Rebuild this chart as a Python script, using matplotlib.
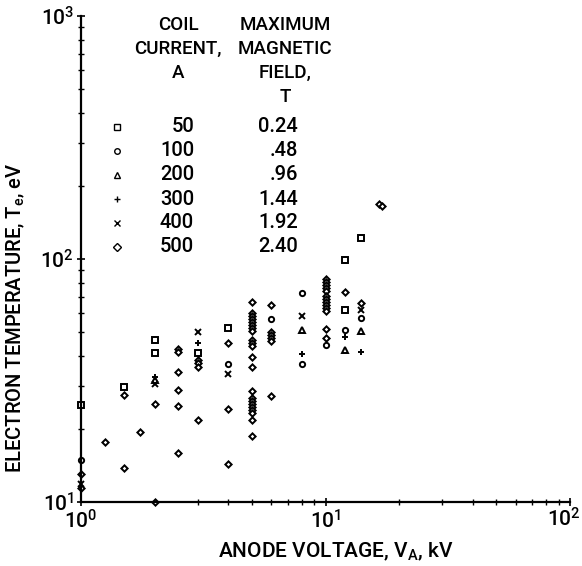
import matplotlib
matplotlib.use("Agg")
import matplotlib.pyplot as plt
import numpy as np

plt.rcParams['font.family'] = ['Roboto', 'DejaVu Sans']
plt.rcParams['font.weight'] = 'medium'
plt.rcParams['axes.labelweight'] = 'medium'
plt.rcParams['mathtext.fontset'] = 'custom'
plt.rcParams['mathtext.rm'] = 'Roboto:medium'
plt.rcParams['mathtext.it'] = 'Roboto:medium'

# coil current (A) -> max magnetic field (T), marker
currents = ['50', '100', '200', '300', '400', '500']
fields = ['0.24', '.48', '.96', '1.44', '1.92', '2.40']
markers = ['s', 'o', '^', '+', 'x', 'D']

# anode voltage (kV) and electron temperature (eV), per coil current
v_50 = [1, 1.5, 2, 2, 3, 4, 12, 12, 14]
t_50 = [25.1, 29.7, 46.4, 41.0, 41.2, 51.9, 99.5, 61.7, 122.5]

v_100 = [1, 4, 6, 8, 8, 10, 12, 14]
t_100 = [14.9, 37.0, 56.4, 72.4, 37.0, 44.1, 51.0, 57.2]

v_200 = [2, 8, 12, 14]
t_200 = [31.8, 51.0, 42.4, 50.5]

v_300 = [2, 3, 8, 12, 14]
t_300 = [32.7, 45.0, 40.5, 47.8, 41.4]

v_400 = [1, 2, 3, 4, 8, 14]
t_400 = [11.9, 30.6, 49.9, 33.6, 58.3, 61.7]

v_500 = [1, 1, 1.25, 1.5, 1.5, 1.75, 2, 2,
         2.5, 2.5, 2.5, 2.5, 2.5, 2.5,
         3, 3, 3, 3,
         4, 4, 4,
         5, 5, 5, 5, 5, 5, 5, 5, 5, 5, 5, 5, 5, 5, 5, 5, 5, 5, 5, 5, 5, 5,
         6, 6, 6, 6, 6, 6,
         10, 10, 10, 10, 10, 10, 10, 10, 10, 10, 10, 10, 10,
         12, 14, 16.5, 17.1]
t_500 = [13.0, 11.4, 17.7, 27.6, 13.8, 19.4, 25.3, 10.0,
         42.6, 41.4, 34.3, 28.9, 24.8, 15.9,
         38.4, 37.3, 36.1, 21.8,
         45.1, 24.1, 14.3,
         66.7, 60.0, 58.3, 56.6, 55.0, 53.5, 52.0, 50.5, 46.4, 45.1, 43.9,
         39.5, 35.9, 28.6, 26.8, 26.0, 25.3, 24.6, 23.9, 23.2, 21.8, 18.7,
         64.7, 50.1, 48.7, 47.3, 46.0, 27.4,
         82.7, 80.4, 78.2, 76.0, 73.8, 70.4, 68.5, 66.5, 64.7, 62.9, 61.1,
         51.7, 47.4,
         73.2, 65.9, 168, 165]

series = [(v_50, t_50), (v_100, t_100), (v_200, t_200),
          (v_300, t_300), (v_400, t_400), (v_500, t_500)]

x_ticks = [1, 10, 100]
x_ticklabels = [r'$\mathdefault{10^0}$', r'$\mathdefault{10^1}$', '']
y_ticks = [10, 100, 1000]
y_ticklabels = [r'$\mathdefault{10^1}$', r'$\mathdefault{10^2}$', r'$\mathdefault{10^3}$']

fig = plt.figure(figsize=(5.82, 5.66), dpi=100)
ax = fig.add_axes([81 / 582, 1 - 502 / 566, 489 / 582, 486 / 566])

for (v, t), m in zip(series, markers):
    ms = 3.2 if m == 'D' else 3.8
    ax.plot(v, t, linestyle='none', marker=m, markersize=ms, clip_on=False,
            markerfacecolor='white', markeredgecolor='black', markeredgewidth=1.4)

ax.set_xscale('log')
ax.set_yscale('log')
ax.set_xlim(1, 100)
ax.set_ylim(10, 1000)
ax.set_xticks(x_ticks)
ax.set_xticklabels(x_ticklabels)
ax.set_yticks(y_ticks)
ax.set_yticklabels(y_ticklabels)

# last x tick label nudged so it stays inside the picture
ax.annotate(r'$\mathdefault{10^2}$', xy=(100, 10), xycoords='data',
            xytext=(8, -4), textcoords='offset points',
            ha='right', va='top', fontsize=15, annotation_clip=False)

for s in ['top', 'right']:
    ax.spines[s].set_visible(False)
for s in ['left', 'bottom']:
    ax.spines[s].set_linewidth(1.6)

ax.tick_params(which='major', direction='inout', length=6, width=1.2, labelsize=15, pad=2)
ax.tick_params(which='minor', direction='inout', length=5, width=1.0)

ax.set_xlabel(r'ANODE VOLTAGE, $\mathdefault{V_A}$, kV', fontsize=15)
ax.set_ylabel(r'ELECTRON TEMPERATURE, $\mathdefault{T_e}$, eV', fontsize=14.5)
ax.xaxis.set_label_coords(0.52, -0.08)
ax.yaxis.set_label_coords(-0.11, 0.38)

# legend drawn as a small table in figure pixels
def fx(px):
    return px / 582

def fy(py):
    return 1 - py / 566

hdr = dict(fontsize=13.5, ha='center', va='center')
for i, line in enumerate(['COIL', 'CURRENT,', 'A']):
    fig.text(fx(178), fy(25 + 24 * i), line, **hdr)
for i, line in enumerate(['MAXIMUM', 'MAGNETIC', 'FIELD,', 'T']):
    fig.text(fx(285), fy(25 + 24 * i), line, **hdr)

for i, (c, f, m) in enumerate(zip(currents, fields, markers)):
    y = 127 + 24 * i
    ax.plot([fx(117)], [fy(y)], transform=fig.transFigure, linestyle='none',
            marker=m, markersize=4, markerfacecolor='white',
            markeredgecolor='black', markeredgewidth=1.0, clip_on=False)
    fig.text(fx(194), fy(y), c, fontsize=14.5, ha='right', va='center')
    fig.text(fx(298), fy(y), f, fontsize=14.5, ha='right', va='center')

fig.savefig('out.png', dpi=100, facecolor='white')
